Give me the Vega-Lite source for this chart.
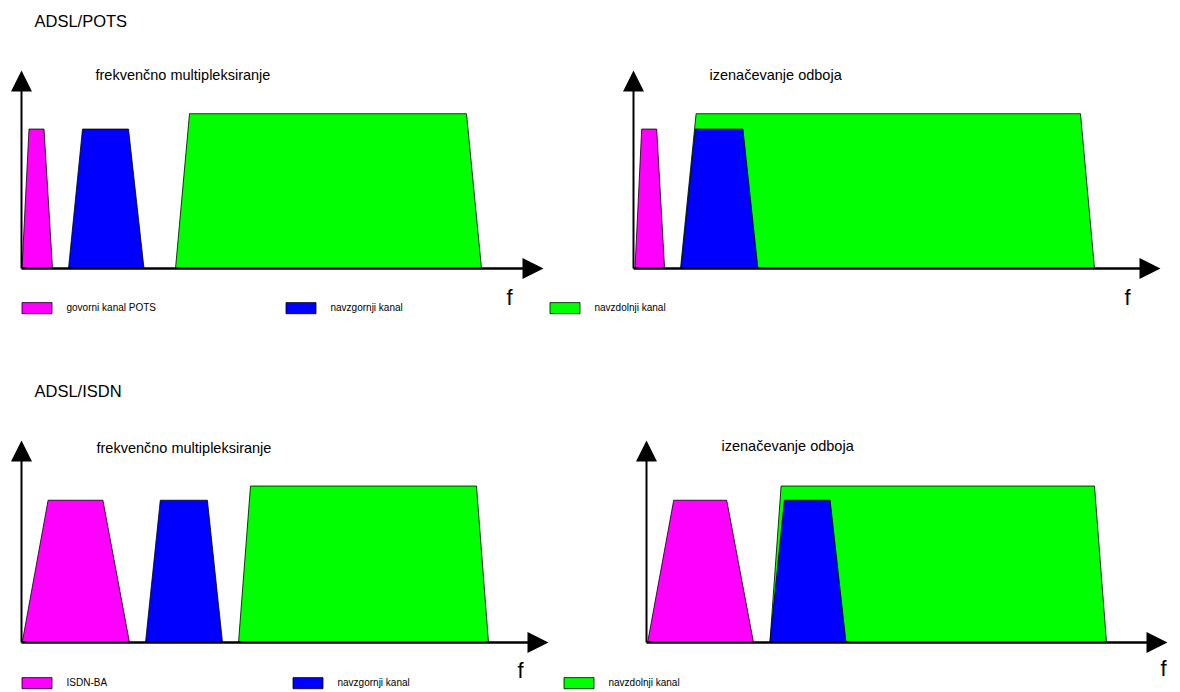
{
  "$schema": "https://vega.github.io/schema/vega-lite/v6.json",
  "background": "white",
  "padding": {"left": 10.5, "top": 13.5, "right": 0, "bottom": 0},
  "bounds": "flush",
  "spacing": 370,
  "datasets": {
    "bands": [
      {"p": "TL", "band": "voice", "kanal": "govorni kanal POTS", "f": 0.5, "level": 0},
      {"p": "TL", "band": "voice", "kanal": "govorni kanal POTS", "f": 7.5, "level": 1},
      {"p": "TL", "band": "voice", "kanal": "govorni kanal POTS", "f": 22.5, "level": 1},
      {"p": "TL", "band": "voice", "kanal": "govorni kanal POTS", "f": 31, "level": 0},
      {"p": "TL", "band": "up", "kanal": "navzgornji kanal", "f": 47, "level": 0},
      {"p": "TL", "band": "up", "kanal": "navzgornji kanal", "f": 61, "level": 1},
      {"p": "TL", "band": "up", "kanal": "navzgornji kanal", "f": 107, "level": 1},
      {"p": "TL", "band": "up", "kanal": "navzgornji kanal", "f": 122.5, "level": 0},
      {"p": "TL", "band": "down", "kanal": "navzdolnji kanal", "f": 154, "level": 0},
      {"p": "TL", "band": "down", "kanal": "navzdolnji kanal", "f": 168, "level": 1.11},
      {"p": "TL", "band": "down", "kanal": "navzdolnji kanal", "f": 445, "level": 1.11},
      {"p": "TL", "band": "down", "kanal": "navzdolnji kanal", "f": 460, "level": 0},
      {"p": "TR", "band": "voice", "kanal": "govorni kanal POTS", "f": 1.5, "level": 0},
      {"p": "TR", "band": "voice", "kanal": "govorni kanal POTS", "f": 8.2, "level": 1},
      {"p": "TR", "band": "voice", "kanal": "govorni kanal POTS", "f": 23.2, "level": 1},
      {"p": "TR", "band": "voice", "kanal": "govorni kanal POTS", "f": 31.1, "level": 0},
      {"p": "TR", "band": "up", "kanal": "navzgornji kanal", "f": 47.6, "level": 0},
      {"p": "TR", "band": "up", "kanal": "navzgornji kanal", "f": 61.8, "level": 1},
      {"p": "TR", "band": "up", "kanal": "navzgornji kanal", "f": 109.4, "level": 1},
      {"p": "TR", "band": "up", "kanal": "navzgornji kanal", "f": 124.4, "level": 0},
      {"p": "TR", "band": "down", "kanal": "navzdolnji kanal", "f": 47, "level": 0},
      {"p": "TR", "band": "down", "kanal": "navzdolnji kanal", "f": 62.6, "level": 1.11},
      {"p": "TR", "band": "down", "kanal": "navzdolnji kanal", "f": 447, "level": 1.11},
      {"p": "TR", "band": "down", "kanal": "navzdolnji kanal", "f": 461, "level": 0},
      {"p": "BL", "band": "voice", "kanal": "ISDN-BA", "f": 0.7, "level": 0},
      {"p": "BL", "band": "voice", "kanal": "ISDN-BA", "f": 26.6, "level": 1},
      {"p": "BL", "band": "voice", "kanal": "ISDN-BA", "f": 81.4, "level": 1},
      {"p": "BL", "band": "voice", "kanal": "ISDN-BA", "f": 108, "level": 0},
      {"p": "BL", "band": "up", "kanal": "navzgornji kanal", "f": 124, "level": 0},
      {"p": "BL", "band": "up", "kanal": "navzgornji kanal", "f": 138.8, "level": 1},
      {"p": "BL", "band": "up", "kanal": "navzgornji kanal", "f": 185.9, "level": 1},
      {"p": "BL", "band": "up", "kanal": "navzgornji kanal", "f": 201, "level": 0},
      {"p": "BL", "band": "down", "kanal": "navzdolnji kanal", "f": 217, "level": 0},
      {"p": "BL", "band": "down", "kanal": "navzdolnji kanal", "f": 229, "level": 1.1},
      {"p": "BL", "band": "down", "kanal": "navzdolnji kanal", "f": 455, "level": 1.1},
      {"p": "BL", "band": "down", "kanal": "navzdolnji kanal", "f": 467, "level": 0},
      {"p": "BR", "band": "voice", "kanal": "ISDN-BA", "f": 1.1, "level": 0},
      {"p": "BR", "band": "voice", "kanal": "ISDN-BA", "f": 27.2, "level": 1},
      {"p": "BR", "band": "voice", "kanal": "ISDN-BA", "f": 80.2, "level": 1},
      {"p": "BR", "band": "voice", "kanal": "ISDN-BA", "f": 107, "level": 0},
      {"p": "BR", "band": "up", "kanal": "navzgornji kanal", "f": 123.4, "level": 0},
      {"p": "BR", "band": "up", "kanal": "navzgornji kanal", "f": 137.9, "level": 1},
      {"p": "BR", "band": "up", "kanal": "navzgornji kanal", "f": 183.6, "level": 1},
      {"p": "BR", "band": "up", "kanal": "navzgornji kanal", "f": 199.5, "level": 0},
      {"p": "BR", "band": "down", "kanal": "navzdolnji kanal", "f": 123.4, "level": 0},
      {"p": "BR", "band": "down", "kanal": "navzdolnji kanal", "f": 134.6, "level": 1.1},
      {"p": "BR", "band": "down", "kanal": "navzdolnji kanal", "f": 448, "level": 1.1},
      {"p": "BR", "band": "down", "kanal": "navzdolnji kanal", "f": 460, "level": 0}
    ]
  },
  "vconcat": [
    {
      "bounds": "flush",
      "spacing": 90,
      "resolve": {"scale": {"fill": "independent"}, "legend": {"fill": "independent"}},
      "hconcat": [
        {
          "width": 522, "height": 198,
          "layer": [
            {"data": {"name": "bands"}, "transform": [{"filter": "datum.p==='TL' && datum.band==='down'"}],
             "mark": {"type": "area", "stroke": "black", "strokeWidth": 0.8, "opacity": 1},
             "encoding": {
               "x": {"field": "f", "type": "quantitative", "scale": {"domain": [0, 522], "nice": false, "zero": false}, "axis": null},
               "y": {"field": "level", "type": "quantitative", "scale": {"domain": [0, 1.42], "nice": false}, "axis": null},
               "fill": {"field": "kanal", "type": "nominal", "scale": {"domain": ["govorni kanal POTS", "navzgornji kanal", "navzdolnji kanal"], "range": ["#ff00ff", "#0000ff", "#00ff00"]},
                        "legend": {"title": null, "legendX": 0, "legendY": 222, "columnPadding": 127, "encode": {"symbols": {"update": {"stroke": {"value": "black"}, "strokeWidth": {"value": 0.8}}}}}}
             }},
            {"data": {"name": "bands"}, "transform": [{"filter": "datum.p==='TL' && datum.band==='voice'"}],
             "mark": {"type": "area", "stroke": "black", "strokeWidth": 0.8, "opacity": 1},
             "encoding": {
               "x": {"field": "f", "type": "quantitative", "scale": {"domain": [0, 522], "nice": false, "zero": false}, "axis": null},
               "y": {"field": "level", "type": "quantitative", "scale": {"domain": [0, 1.42], "nice": false}, "axis": null},
               "fill": {"field": "kanal", "type": "nominal", "scale": {"domain": ["govorni kanal POTS", "navzgornji kanal", "navzdolnji kanal"], "range": ["#ff00ff", "#0000ff", "#00ff00"]}, "legend": null}
             }},
            {"data": {"name": "bands"}, "transform": [{"filter": "datum.p==='TL' && datum.band==='up'"}],
             "mark": {"type": "area", "stroke": "black", "strokeWidth": 0.8, "opacity": 1},
             "encoding": {
               "x": {"field": "f", "type": "quantitative", "scale": {"domain": [0, 522], "nice": false, "zero": false}, "axis": null},
               "y": {"field": "level", "type": "quantitative", "scale": {"domain": [0, 1.42], "nice": false}, "axis": null},
               "fill": {"field": "kanal", "type": "nominal", "scale": {"domain": ["govorni kanal POTS", "navzgornji kanal", "navzdolnji kanal"], "range": ["#ff00ff", "#0000ff", "#00ff00"]}, "legend": null}
             }},
            {"data": {"values": [{}]},
             "mark": {"type": "rule", "color": "black", "strokeWidth": 2.5},
             "encoding": {
               "x": {"datum": 0, "type": "quantitative", "scale": {"domain": [0, 522], "nice": false, "zero": false}, "axis": null},
               "x2": {"datum": 515},
               "y": {"datum": 0, "type": "quantitative", "scale": {"domain": [0, 1.42], "nice": false}, "axis": null}
             }},
            {"data": {"values": [{}]},
             "mark": {"type": "rule", "color": "black", "strokeWidth": 2},
             "encoding": {
               "x": {"datum": 0, "type": "quantitative", "scale": {"domain": [0, 522], "nice": false, "zero": false}, "axis": null},
               "y": {"datum": 0, "type": "quantitative", "scale": {"domain": [0, 1.42], "nice": false}, "axis": null},
               "y2": {"datum": 1.37}
             }},
            {"data": {"values": [{}]},
             "mark": {"type": "point", "shape": "M-1,1L0,-1L1,1Z", "filled": true, "color": "black", "opacity": 1, "size": 441, "strokeWidth": 0},
             "encoding": {
               "x": {"datum": 0, "type": "quantitative", "scale": {"domain": [0, 522], "nice": false, "zero": false}, "axis": null},
               "y": {"datum": 1.345, "type": "quantitative", "scale": {"domain": [0, 1.42], "nice": false}, "axis": null}
             }},
            {"data": {"values": [{}]},
             "mark": {"type": "point", "shape": "M-1,-1L1,0L-1,1Z", "filled": true, "color": "black", "opacity": 1, "size": 441, "strokeWidth": 0},
             "encoding": {
               "x": {"datum": 511.5, "type": "quantitative", "scale": {"domain": [0, 522], "nice": false, "zero": false}, "axis": null},
               "y": {"datum": 0, "type": "quantitative", "scale": {"domain": [0, 1.42], "nice": false}, "axis": null}
             }},
            {"data": {"values": [{}]},
             "mark": {"type": "text", "text": "frekvenčno multipleksiranje", "align": "left", "baseline": "middle", "font": "Liberation Sans", "fontSize": 14.5, "color": "black"},
             "encoding": {
               "x": {"datum": 74, "type": "quantitative", "scale": {"domain": [0, 522], "nice": false, "zero": false}, "axis": null},
               "y": {"datum": 1.384, "type": "quantitative", "scale": {"domain": [0, 1.42], "nice": false}, "axis": null}
             }},
            {"data": {"values": [{}]},
             "mark": {"type": "text", "text": "f", "align": "center", "baseline": "middle", "font": "Liberation Sans", "fontSize": 22, "color": "black"},
             "encoding": {
               "x": {"datum": 488, "type": "quantitative", "scale": {"domain": [0, 522], "nice": false, "zero": false}, "axis": null},
               "y": {"datum": -0.215, "type": "quantitative", "scale": {"domain": [0, 1.42], "nice": false}, "axis": null}
             }},
            {"data": {"values": [{}]},
             "mark": {"type": "text", "text": "ADSL/POTS", "align": "left", "baseline": "middle", "font": "Liberation Sans", "fontSize": 16.5, "color": "black"},
             "encoding": {
               "x": {"datum": 13, "type": "quantitative", "scale": {"domain": [0, 522], "nice": false, "zero": false}, "axis": null},
               "y": {"datum": 1.766, "type": "quantitative", "scale": {"domain": [0, 1.42], "nice": false}, "axis": null}
             }}
          ]
        },
        {
          "width": 527, "height": 198,
          "layer": [
            {"data": {"name": "bands"}, "transform": [{"filter": "datum.p==='TR' && datum.band==='down'"}],
             "mark": {"type": "area", "stroke": "black", "strokeWidth": 0.8, "opacity": 1},
             "encoding": {
               "x": {"field": "f", "type": "quantitative", "scale": {"domain": [0, 527], "nice": false, "zero": false}, "axis": null},
               "y": {"field": "level", "type": "quantitative", "scale": {"domain": [0, 1.42], "nice": false}, "axis": null},
               "fill": {"field": "kanal", "type": "nominal", "scale": {"domain": ["govorni kanal POTS", "navzgornji kanal", "navzdolnji kanal"], "range": ["#ff00ff", "#0000ff", "#00ff00"]}, "legend": null}
             }},
            {"data": {"name": "bands"}, "transform": [{"filter": "datum.p==='TR' && datum.band==='voice'"}],
             "mark": {"type": "area", "stroke": "black", "strokeWidth": 0.8, "opacity": 1},
             "encoding": {
               "x": {"field": "f", "type": "quantitative", "scale": {"domain": [0, 527], "nice": false, "zero": false}, "axis": null},
               "y": {"field": "level", "type": "quantitative", "scale": {"domain": [0, 1.42], "nice": false}, "axis": null},
               "fill": {"field": "kanal", "type": "nominal", "scale": {"domain": ["govorni kanal POTS", "navzgornji kanal", "navzdolnji kanal"], "range": ["#ff00ff", "#0000ff", "#00ff00"]}, "legend": null}
             }},
            {"data": {"name": "bands"}, "transform": [{"filter": "datum.p==='TR' && datum.band==='up'"}],
             "mark": {"type": "area", "stroke": "black", "strokeWidth": 0.8, "opacity": 1},
             "encoding": {
               "x": {"field": "f", "type": "quantitative", "scale": {"domain": [0, 527], "nice": false, "zero": false}, "axis": null},
               "y": {"field": "level", "type": "quantitative", "scale": {"domain": [0, 1.42], "nice": false}, "axis": null},
               "fill": {"field": "kanal", "type": "nominal", "scale": {"domain": ["govorni kanal POTS", "navzgornji kanal", "navzdolnji kanal"], "range": ["#ff00ff", "#0000ff", "#00ff00"]}, "legend": null}
             }},
            {"data": {"values": [{}]},
             "mark": {"type": "rule", "color": "black", "strokeWidth": 2.5},
             "encoding": {
               "x": {"datum": 0, "type": "quantitative", "scale": {"domain": [0, 527], "nice": false, "zero": false}, "axis": null},
               "x2": {"datum": 520},
               "y": {"datum": 0, "type": "quantitative", "scale": {"domain": [0, 1.42], "nice": false}, "axis": null}
             }},
            {"data": {"values": [{}]},
             "mark": {"type": "rule", "color": "black", "strokeWidth": 2},
             "encoding": {
               "x": {"datum": 0, "type": "quantitative", "scale": {"domain": [0, 527], "nice": false, "zero": false}, "axis": null},
               "y": {"datum": 0, "type": "quantitative", "scale": {"domain": [0, 1.42], "nice": false}, "axis": null},
               "y2": {"datum": 1.37}
             }},
            {"data": {"values": [{}]},
             "mark": {"type": "point", "shape": "M-1,1L0,-1L1,1Z", "filled": true, "color": "black", "opacity": 1, "size": 441, "strokeWidth": 0},
             "encoding": {
               "x": {"datum": 0, "type": "quantitative", "scale": {"domain": [0, 527], "nice": false, "zero": false}, "axis": null},
               "y": {"datum": 1.345, "type": "quantitative", "scale": {"domain": [0, 1.42], "nice": false}, "axis": null}
             }},
            {"data": {"values": [{}]},
             "mark": {"type": "point", "shape": "M-1,-1L1,0L-1,1Z", "filled": true, "color": "black", "opacity": 1, "size": 441, "strokeWidth": 0},
             "encoding": {
               "x": {"datum": 516.5, "type": "quantitative", "scale": {"domain": [0, 527], "nice": false, "zero": false}, "axis": null},
               "y": {"datum": 0, "type": "quantitative", "scale": {"domain": [0, 1.42], "nice": false}, "axis": null}
             }},
            {"data": {"values": [{}]},
             "mark": {"type": "text", "text": "izenačevanje odboja", "align": "left", "baseline": "middle", "font": "Liberation Sans", "fontSize": 14.5, "color": "black"},
             "encoding": {
               "x": {"datum": 76, "type": "quantitative", "scale": {"domain": [0, 527], "nice": false, "zero": false}, "axis": null},
               "y": {"datum": 1.384, "type": "quantitative", "scale": {"domain": [0, 1.42], "nice": false}, "axis": null}
             }},
            {"data": {"values": [{}]},
             "mark": {"type": "text", "text": "f", "align": "center", "baseline": "middle", "font": "Liberation Sans", "fontSize": 22, "color": "black"},
             "encoding": {
               "x": {"datum": 494, "type": "quantitative", "scale": {"domain": [0, 527], "nice": false, "zero": false}, "axis": null},
               "y": {"datum": -0.215, "type": "quantitative", "scale": {"domain": [0, 1.42], "nice": false}, "axis": null}
             }}
          ]
        }
      ]
    },
    {
      "bounds": "flush",
      "spacing": 98,
      "resolve": {"scale": {"fill": "independent"}, "legend": {"fill": "independent"}},
      "hconcat": [
        {
          "width": 527, "height": 202,
          "layer": [
            {"data": {"name": "bands"}, "transform": [{"filter": "datum.p==='BL' && datum.band==='down'"}],
             "mark": {"type": "area", "stroke": "black", "strokeWidth": 0.8, "opacity": 1},
             "encoding": {
               "x": {"field": "f", "type": "quantitative", "scale": {"domain": [0, 527], "nice": false, "zero": false}, "axis": null},
               "y": {"field": "level", "type": "quantitative", "scale": {"domain": [0, 1.42], "nice": false}, "axis": null},
               "fill": {"field": "kanal", "type": "nominal", "scale": {"domain": ["ISDN-BA", "navzgornji kanal", "navzdolnji kanal"], "range": ["#ff00ff", "#0000ff", "#00ff00"]},
                        "legend": {"title": null, "legendX": 0, "legendY": 227, "columnPadding": 151, "encode": {"symbols": {"update": {"stroke": {"value": "black"}, "strokeWidth": {"value": 0.8}}}}}}
             }},
            {"data": {"name": "bands"}, "transform": [{"filter": "datum.p==='BL' && datum.band==='voice'"}],
             "mark": {"type": "area", "stroke": "black", "strokeWidth": 0.8, "opacity": 1},
             "encoding": {
               "x": {"field": "f", "type": "quantitative", "scale": {"domain": [0, 527], "nice": false, "zero": false}, "axis": null},
               "y": {"field": "level", "type": "quantitative", "scale": {"domain": [0, 1.42], "nice": false}, "axis": null},
               "fill": {"field": "kanal", "type": "nominal", "scale": {"domain": ["ISDN-BA", "navzgornji kanal", "navzdolnji kanal"], "range": ["#ff00ff", "#0000ff", "#00ff00"]}, "legend": null}
             }},
            {"data": {"name": "bands"}, "transform": [{"filter": "datum.p==='BL' && datum.band==='up'"}],
             "mark": {"type": "area", "stroke": "black", "strokeWidth": 0.8, "opacity": 1},
             "encoding": {
               "x": {"field": "f", "type": "quantitative", "scale": {"domain": [0, 527], "nice": false, "zero": false}, "axis": null},
               "y": {"field": "level", "type": "quantitative", "scale": {"domain": [0, 1.42], "nice": false}, "axis": null},
               "fill": {"field": "kanal", "type": "nominal", "scale": {"domain": ["ISDN-BA", "navzgornji kanal", "navzdolnji kanal"], "range": ["#ff00ff", "#0000ff", "#00ff00"]}, "legend": null}
             }},
            {"data": {"values": [{}]},
             "mark": {"type": "rule", "color": "black", "strokeWidth": 2.5},
             "encoding": {
               "x": {"datum": 0, "type": "quantitative", "scale": {"domain": [0, 527], "nice": false, "zero": false}, "axis": null},
               "x2": {"datum": 520},
               "y": {"datum": 0, "type": "quantitative", "scale": {"domain": [0, 1.42], "nice": false}, "axis": null}
             }},
            {"data": {"values": [{}]},
             "mark": {"type": "rule", "color": "black", "strokeWidth": 2},
             "encoding": {
               "x": {"datum": 0, "type": "quantitative", "scale": {"domain": [0, 527], "nice": false, "zero": false}, "axis": null},
               "y": {"datum": 0, "type": "quantitative", "scale": {"domain": [0, 1.42], "nice": false}, "axis": null},
               "y2": {"datum": 1.37}
             }},
            {"data": {"values": [{}]},
             "mark": {"type": "point", "shape": "M-1,1L0,-1L1,1Z", "filled": true, "color": "black", "opacity": 1, "size": 441, "strokeWidth": 0},
             "encoding": {
               "x": {"datum": 0, "type": "quantitative", "scale": {"domain": [0, 527], "nice": false, "zero": false}, "axis": null},
               "y": {"datum": 1.346, "type": "quantitative", "scale": {"domain": [0, 1.42], "nice": false}, "axis": null}
             }},
            {"data": {"values": [{}]},
             "mark": {"type": "point", "shape": "M-1,-1L1,0L-1,1Z", "filled": true, "color": "black", "opacity": 1, "size": 441, "strokeWidth": 0},
             "encoding": {
               "x": {"datum": 516.5, "type": "quantitative", "scale": {"domain": [0, 527], "nice": false, "zero": false}, "axis": null},
               "y": {"datum": 0, "type": "quantitative", "scale": {"domain": [0, 1.42], "nice": false}, "axis": null}
             }},
            {"data": {"values": [{}]},
             "mark": {"type": "text", "text": "frekvenčno multipleksiranje", "align": "left", "baseline": "middle", "font": "Liberation Sans", "fontSize": 14.5, "color": "black"},
             "encoding": {
               "x": {"datum": 75, "type": "quantitative", "scale": {"domain": [0, 527], "nice": false, "zero": false}, "axis": null},
               "y": {"datum": 1.357, "type": "quantitative", "scale": {"domain": [0, 1.42], "nice": false}, "axis": null}
             }},
            {"data": {"values": [{}]},
             "mark": {"type": "text", "text": "f", "align": "center", "baseline": "middle", "font": "Liberation Sans", "fontSize": 22, "color": "black"},
             "encoding": {
               "x": {"datum": 499, "type": "quantitative", "scale": {"domain": [0, 527], "nice": false, "zero": false}, "axis": null},
               "y": {"datum": -0.197, "type": "quantitative", "scale": {"domain": [0, 1.42], "nice": false}, "axis": null}
             }},
            {"data": {"values": [{}]},
             "mark": {"type": "text", "text": "ADSL/ISDN", "align": "left", "baseline": "middle", "font": "Liberation Sans", "fontSize": 16.5, "color": "black"},
             "encoding": {
               "x": {"datum": 13, "type": "quantitative", "scale": {"domain": [0, 527], "nice": false, "zero": false}, "axis": null},
               "y": {"datum": 1.76, "type": "quantitative", "scale": {"domain": [0, 1.42], "nice": false}, "axis": null}
             }}
          ]
        },
        {
          "width": 521, "height": 202,
          "layer": [
            {"data": {"name": "bands"}, "transform": [{"filter": "datum.p==='BR' && datum.band==='down'"}],
             "mark": {"type": "area", "stroke": "black", "strokeWidth": 0.8, "opacity": 1},
             "encoding": {
               "x": {"field": "f", "type": "quantitative", "scale": {"domain": [0, 521], "nice": false, "zero": false}, "axis": null},
               "y": {"field": "level", "type": "quantitative", "scale": {"domain": [0, 1.42], "nice": false}, "axis": null},
               "fill": {"field": "kanal", "type": "nominal", "scale": {"domain": ["ISDN-BA", "navzgornji kanal", "navzdolnji kanal"], "range": ["#ff00ff", "#0000ff", "#00ff00"]}, "legend": null}
             }},
            {"data": {"name": "bands"}, "transform": [{"filter": "datum.p==='BR' && datum.band==='voice'"}],
             "mark": {"type": "area", "stroke": "black", "strokeWidth": 0.8, "opacity": 1},
             "encoding": {
               "x": {"field": "f", "type": "quantitative", "scale": {"domain": [0, 521], "nice": false, "zero": false}, "axis": null},
               "y": {"field": "level", "type": "quantitative", "scale": {"domain": [0, 1.42], "nice": false}, "axis": null},
               "fill": {"field": "kanal", "type": "nominal", "scale": {"domain": ["ISDN-BA", "navzgornji kanal", "navzdolnji kanal"], "range": ["#ff00ff", "#0000ff", "#00ff00"]}, "legend": null}
             }},
            {"data": {"name": "bands"}, "transform": [{"filter": "datum.p==='BR' && datum.band==='up'"}],
             "mark": {"type": "area", "stroke": "black", "strokeWidth": 0.8, "opacity": 1},
             "encoding": {
               "x": {"field": "f", "type": "quantitative", "scale": {"domain": [0, 521], "nice": false, "zero": false}, "axis": null},
               "y": {"field": "level", "type": "quantitative", "scale": {"domain": [0, 1.42], "nice": false}, "axis": null},
               "fill": {"field": "kanal", "type": "nominal", "scale": {"domain": ["ISDN-BA", "navzgornji kanal", "navzdolnji kanal"], "range": ["#ff00ff", "#0000ff", "#00ff00"]}, "legend": null}
             }},
            {"data": {"values": [{}]},
             "mark": {"type": "rule", "color": "black", "strokeWidth": 2.5},
             "encoding": {
               "x": {"datum": 0, "type": "quantitative", "scale": {"domain": [0, 521], "nice": false, "zero": false}, "axis": null},
               "x2": {"datum": 514},
               "y": {"datum": 0, "type": "quantitative", "scale": {"domain": [0, 1.42], "nice": false}, "axis": null}
             }},
            {"data": {"values": [{}]},
             "mark": {"type": "rule", "color": "black", "strokeWidth": 2},
             "encoding": {
               "x": {"datum": 0, "type": "quantitative", "scale": {"domain": [0, 521], "nice": false, "zero": false}, "axis": null},
               "y": {"datum": 0, "type": "quantitative", "scale": {"domain": [0, 1.42], "nice": false}, "axis": null},
               "y2": {"datum": 1.37}
             }},
            {"data": {"values": [{}]},
             "mark": {"type": "point", "shape": "M-1,1L0,-1L1,1Z", "filled": true, "color": "black", "opacity": 1, "size": 441, "strokeWidth": 0},
             "encoding": {
               "x": {"datum": 0, "type": "quantitative", "scale": {"domain": [0, 521], "nice": false, "zero": false}, "axis": null},
               "y": {"datum": 1.346, "type": "quantitative", "scale": {"domain": [0, 1.42], "nice": false}, "axis": null}
             }},
            {"data": {"values": [{}]},
             "mark": {"type": "point", "shape": "M-1,-1L1,0L-1,1Z", "filled": true, "color": "black", "opacity": 1, "size": 441, "strokeWidth": 0},
             "encoding": {
               "x": {"datum": 510.5, "type": "quantitative", "scale": {"domain": [0, 521], "nice": false, "zero": false}, "axis": null},
               "y": {"datum": 0, "type": "quantitative", "scale": {"domain": [0, 1.42], "nice": false}, "axis": null}
             }},
            {"data": {"values": [{}]},
             "mark": {"type": "text", "text": "izenačevanje odboja", "align": "left", "baseline": "middle", "font": "Liberation Sans", "fontSize": 14.5, "color": "black"},
             "encoding": {
               "x": {"datum": 75, "type": "quantitative", "scale": {"domain": [0, 521], "nice": false, "zero": false}, "axis": null},
               "y": {"datum": 1.371, "type": "quantitative", "scale": {"domain": [0, 1.42], "nice": false}, "axis": null}
             }},
            {"data": {"values": [{}]},
             "mark": {"type": "text", "text": "f", "align": "center", "baseline": "middle", "font": "Liberation Sans", "fontSize": 22, "color": "black"},
             "encoding": {
               "x": {"datum": 517, "type": "quantitative", "scale": {"domain": [0, 521], "nice": false, "zero": false}, "axis": null},
               "y": {"datum": -0.183, "type": "quantitative", "scale": {"domain": [0, 1.42], "nice": false}, "axis": null}
             }}
          ]
        }
      ]
    }
  ],
  "resolve": {"scale": {"fill": "independent"}, "legend": {"fill": "independent"}},
  "config": {
    "view": {"stroke": null},
    "legend": {
      "orient": "none", "direction": "horizontal", "columns": 3, "gridAlign": "all", "padding": 0,
      "symbolType": "M-1,-0.37H1V0.37H-1Z", "symbolSize": 900, "symbolStrokeColor": "black", "symbolStrokeWidth": 0.8, "symbolOpacity": 1,
      "labelFont": "Liberation Sans", "labelFontSize": 10, "labelColor": "black", "labelOffset": 14, "labelLimit": 300
    }
  }
}
